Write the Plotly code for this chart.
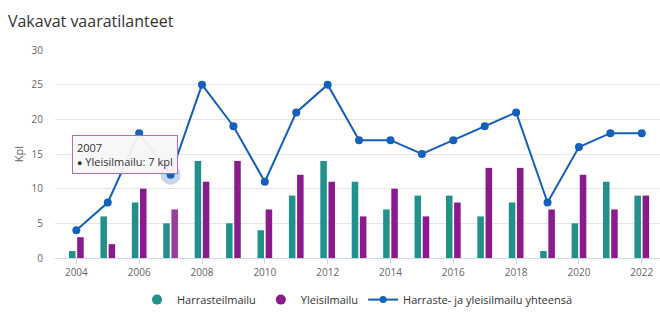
import plotly.graph_objects as go

years = list(range(2004, 2023))
harraste = [1, 6, 8, 5, 14, 5, 4, 9, 14, 11, 7, 9, 9, 6, 8, 1, 5, 11, 9]
yleis = [3, 2, 10, 7, 11, 14, 7, 12, 11, 6, 10, 6, 8, 13, 13, 7, 12, 7, 9]
yhteensa = [4, 8, 18, 12, 25, 19, 11, 21, 25, 17, 17, 15, 17, 19, 21, 8, 16, 18, 18]
x_ticks = list(range(2004, 2023, 2))

TEAL = "#21918c"
PURPLE = "#8b1a8f"
PURPLE_HOVER = "#9a3b9e"
BLUE = "#1560bd"
FONT = "Open Sans"

hover_year = 2007
hi = years.index(hover_year)

fig = go.Figure()

fig.add_bar(x=years, y=harraste, name="Harrasteilmailu", marker_color=TEAL,
            marker_line_width=0, showlegend=False)
fig.add_bar(x=years, y=yleis, name="Yleisilmailu",
            marker_color=[PURPLE_HOVER if y == hover_year else PURPLE for y in years],
            marker_line_width=0, showlegend=False)

# halo around the highlighted point
fig.add_scatter(x=[years[hi]], y=[yhteensa[hi]], mode="markers",
                marker=dict(size=20, color="rgba(21,96,189,0.25)"),
                showlegend=False, hoverinfo="skip")
fig.add_scatter(x=years, y=yhteensa, mode="lines+markers",
                name="Harraste- ja yleisilmailu yhteensä",
                line=dict(color=BLUE, width=2),
                marker=dict(size=8, color=BLUE), showlegend=False)

# legend entries with round symbols
for nm, col in [("Harrasteilmailu", TEAL), ("Yleisilmailu", PURPLE)]:
    fig.add_scatter(x=[None], y=[None], mode="markers", name=nm,
                    marker=dict(size=10, color=col, symbol="circle"))
fig.add_scatter(x=[None], y=[None], mode="lines+markers",
                name="Harraste- ja yleisilmailu yhteensä",
                line=dict(color=BLUE, width=2), marker=dict(size=7, color=BLUE))

fig.add_annotation(
    x=years[hi], y=yhteensa[hi], xref="x", yref="y",
    text=f"{hover_year}<br><span style='font-size:9px'>●</span> Yleisilmailu: {yleis[hi]} kpl",
    align="left", showarrow=True, arrowhead=0, arrowwidth=1,
    arrowcolor="#b26db6", ax=-46, ay=-20, standoff=2,
    bgcolor="rgba(247,247,247,0.95)", bordercolor="#b26db6", borderwidth=1,
    borderpad=4, font=dict(family=FONT, size=11, color="#333333"),
)

fig.update_layout(
    width=660, height=324,
    margin=dict(l=55, r=0, t=50, b=66),
    paper_bgcolor="white", plot_bgcolor="white",
    title=dict(text="Vakavat vaaratilanteet", x=0.012, xanchor="left",
               y=0.935, yanchor="middle",
               font=dict(family=FONT, size=16, color="#333333")),
    barmode="group", bargap=0.48, bargroupgap=0.2,
    font=dict(family=FONT, color="#666666", size=10),
    legend=dict(orientation="h", x=0.5, xanchor="center", y=-0.2, yanchor="middle",
                font=dict(family=FONT, size=11, color="#333333"),
                itemwidth=30, tracegroupgap=0),
    hovermode=False,
)
fig.update_xaxes(
    range=[2003.32, 2022.58], tickmode="array", tickvals=x_ticks,
    ticktext=[str(t) for t in x_ticks], showgrid=False,
    showline=True, linecolor="#ccd6eb", linewidth=1,
    ticks="outside", ticklen=5, tickcolor="#ccd6eb",
    tickfont=dict(size=10, color="#666666"), zeroline=False,
)
fig.update_yaxes(
    range=[0, 30], tickvals=[0, 5, 10, 15, 20, 25, 30],
    gridcolor="#e6e6e6", gridwidth=1, zeroline=False,
    ticklabelstandoff=11, tickfont=dict(size=10, color="#666666"),
    title=dict(text="Kpl", font=dict(size=11, color="#666666"), standoff=5),
)

fig.write_html("out.html")
